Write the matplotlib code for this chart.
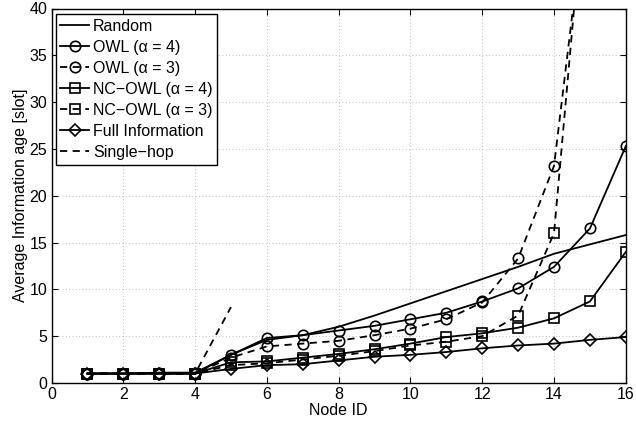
import numpy as np                  # imports the numpy package
import matplotlib
matplotlib.use('Agg')
import matplotlib.pyplot as plt     # imports the library for plotting the graphs

plt.rcParams['font.family'] = ['Liberation Sans', 'DejaVu Sans']
plt.rcParams['font.size'] = 11.5

# node ids on the x axis
nodes = np.arange(1, 17)
nodes15 = np.arange(1, 16)
nodes5 = np.arange(1, 6)

# average information age for each scheme
random_age = [1, 1, 1, 1, 3.0, 4.6, 5.1, 6.0, 7.2, 8.5, 9.8, 11.1, 12.4, 13.8, 14.8, 15.8]
owl4 = [1, 1, 1.1, 1.1, 3.0, 4.8, 5.1, 5.6, 6.1, 6.8, 7.5, 8.7, 10.1, 12.4, 16.5, 25.3]
owl3 = [1, 1, 1, 1, 2.7, 3.9, 4.2, 4.5, 5.1, 5.8, 6.8, 8.6, 13.3, 23.2, 55]
ncowl4 = [1, 1, 1, 1, 2.2, 2.3, 2.7, 3.1, 3.6, 4.2, 4.9, 5.3, 5.9, 6.9, 8.7, 14.0]
ncowl3 = [1, 1, 1, 1, 1.9, 2.1, 2.5, 2.9, 3.4, 4.0, 4.4, 5.0, 7.2, 16.0, 59]
fullinfo = [1, 1, 1, 1, 1.5, 1.9, 2.0, 2.4, 2.8, 3.0, 3.3, 3.7, 4.0, 4.2, 4.6, 4.9]
singlehop = [1, 1, 1, 1, 8.1]

fig = plt.figure(figsize=(6.36, 4.25), dpi=100)
ax = fig.add_axes([0.081, 0.099, 0.903, 0.881])

lw = 1.3            # line width
dash = (4, 3)       # matlab style dashes
mk = dict(markersize=7.5, markerfacecolor='none', markeredgecolor='k', markeredgewidth=1.2)
mks = dict(mk, markersize=6.5)      # squares
mkd = dict(mk, markersize=6.5)      # diamonds

ax.plot(nodes, random_age, 'k-', lw=lw, label='Random')
ax.plot(nodes, owl4, 'k-', marker='o', lw=lw, label='OWL (\u03b1 = 4)', **mk)
ax.plot(nodes15, owl3, 'k--', marker='o', lw=lw, dashes=dash, label='OWL (\u03b1 = 3)', **mk)
ax.plot(nodes, ncowl4, 'k-', marker='s', lw=lw, label='NC\u2212OWL (\u03b1 = 4)', **mks)
ax.plot(nodes15, ncowl3, 'k--', marker='s', lw=lw, dashes=dash, label='NC\u2212OWL (\u03b1 = 3)', **mks)
ax.plot(nodes, fullinfo, 'k-', marker='D', lw=lw, label='Full Information', **mkd)
ax.plot(nodes5, singlehop, 'k--', lw=lw, dashes=dash, label='Single\u2212hop')

ax.set_xlim(0, 16)                      # x range
ax.set_ylim(0, 40)                      # y range
ax.set_xticks(np.arange(0, 17, 2))
ax.set_yticks(np.arange(0, 41, 5))
ax.tick_params(direction='in', length=4, top=True, right=True, width=0.8, pad=3)
ax.grid(True, linestyle=(0, (1, 3)), color='#b0b0b0', lw=0.6)
for s in ax.spines.values():
    s.set_linewidth(1.0)

ax.set_xlabel('Node ID', labelpad=1)            # labels x-axis
ax.set_ylabel('Average Information age [slot]', labelpad=1)  # labels y-axis

leg = ax.legend(loc='upper left', bbox_to_anchor=(0.007, 0.986), fancybox=False,
                edgecolor='k', framealpha=1, handlelength=1.8, handletextpad=0.25,
                borderpad=0.3, labelspacing=0.38, borderaxespad=0.0, fontsize=11.5)
leg.get_frame().set_linewidth(1.0)

fig.savefig('out.png', dpi=100)
